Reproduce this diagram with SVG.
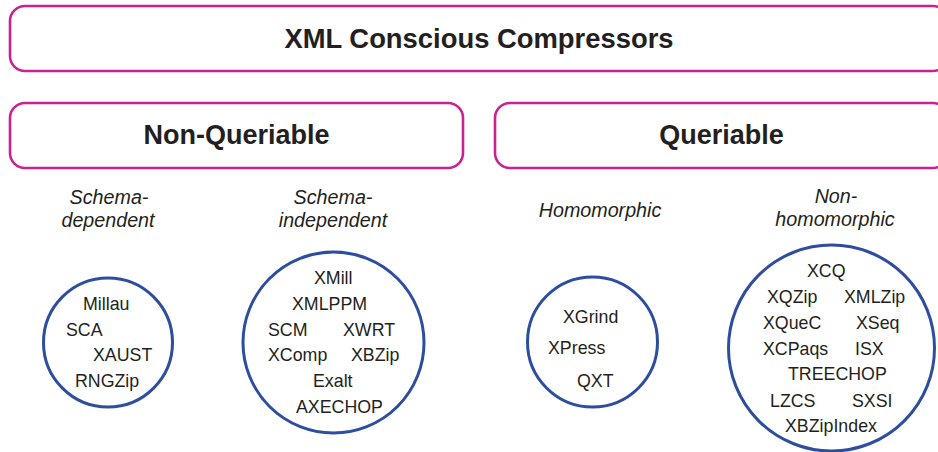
<svg xmlns="http://www.w3.org/2000/svg" width="938" height="452" viewBox="0 0 938 452">
  <style>
    .box { fill: #ffffff; stroke: #c8238f; stroke-width: 2.6; }
    .ring { fill: #ffffff; stroke: #2d4e9f; stroke-width: 3; }
    .head { font-family: "Liberation Sans", Arial, sans-serif; font-weight: bold; font-size: 27px; fill: #231f20; text-anchor: middle; }
    .title { font-size: 27.4px; }
    .cat { font-family: "Liberation Sans", Arial, sans-serif; font-style: italic; font-size: 19.7px; fill: #231f20; text-anchor: middle; }
    .item { font-family: "Liberation Sans", Arial, sans-serif; font-size: 17.8px; fill: #231f20; }
  </style>
  <rect width="938" height="452" fill="#ffffff"/>

  <!-- top-level heading -->
  <g id="root">
    <rect class="box" x="10" y="6" width="938" height="65" rx="15"/>
    <text class="head title" x="479" y="48">XML Conscious Compressors</text>
  </g>

  <!-- the two main families -->
  <g id="non-queriable">
    <rect class="box" x="10" y="103" width="453" height="65" rx="15"/>
    <text class="head" x="236.5" y="144">Non-Queriable</text>
  </g>
  <g id="queriable">
    <rect class="box" x="495" y="103" width="453" height="65" rx="15"/>
    <text class="head" x="721.5" y="144">Queriable</text>
  </g>

  <!-- sub-category captions -->
  <g id="schema-dependent">
    <text class="cat" x="109" y="204">Schema-</text>
    <text class="cat" x="108" y="227">dependent</text>
  </g>
  <g id="schema-independent">
    <text class="cat" x="333" y="204">Schema-</text>
    <text class="cat" x="333" y="227">independent</text>
  </g>
  <g id="homomorphic">
    <text class="cat" x="600" y="217">Homomorphic</text>
  </g>
  <g id="non-homomorphic">
    <text class="cat" x="836" y="203">Non-</text>
    <text class="cat" x="835" y="226">homomorphic</text>
  </g>

  <!-- member sets -->
  <g id="set-schema-dependent">
    <circle class="ring" cx="108" cy="342.5" r="64.5"/>
    <text class="item" x="83" y="310">Millau</text>
    <text class="item" x="66" y="336">SCA</text>
    <text class="item" x="93" y="361">XAUST</text>
    <text class="item" x="75" y="387">RNGZip</text>
  </g>
  <g id="set-schema-independent">
    <circle class="ring" cx="333.5" cy="342.5" r="90.5"/>
    <text class="item" x="314" y="284">XMill</text>
    <text class="item" x="292" y="310">XMLPPM</text>
    <text class="item" x="268" y="336">SCM</text>
    <text class="item" x="343" y="336">XWRT</text>
    <text class="item" x="268" y="361">XComp</text>
    <text class="item" x="351" y="361">XBZip</text>
    <text class="item" x="313" y="387">Exalt</text>
    <text class="item" x="296" y="413">AXECHOP</text>
  </g>
  <g id="set-homomorphic">
    <circle class="ring" cx="592.5" cy="342" r="65"/>
    <text class="item" x="563" y="323">XGrind</text>
    <text class="item" x="548" y="354">XPress</text>
    <text class="item" x="577" y="387">QXT</text>
  </g>
  <g id="set-non-homomorphic">
    <circle class="ring" cx="831.5" cy="348" r="103"/>
    <text class="item" x="807" y="277">XCQ</text>
    <text class="item" x="767" y="303">XQZip</text>
    <text class="item" x="844" y="303">XMLZip</text>
    <text class="item" x="763" y="329">XQueC</text>
    <text class="item" x="856" y="329">XSeq</text>
    <text class="item" x="763" y="355">XCPaqs</text>
    <text class="item" x="855" y="355">ISX</text>
    <text class="item" x="788" y="380">TREECHOP</text>
    <text class="item" x="770" y="407">LZCS</text>
    <text class="item" x="852" y="407">SXSI</text>
    <text class="item" x="785" y="432">XBZipIndex</text>
  </g>

  <!-- no connectors in this chart -->
  <g id="connectors"/>
</svg>
